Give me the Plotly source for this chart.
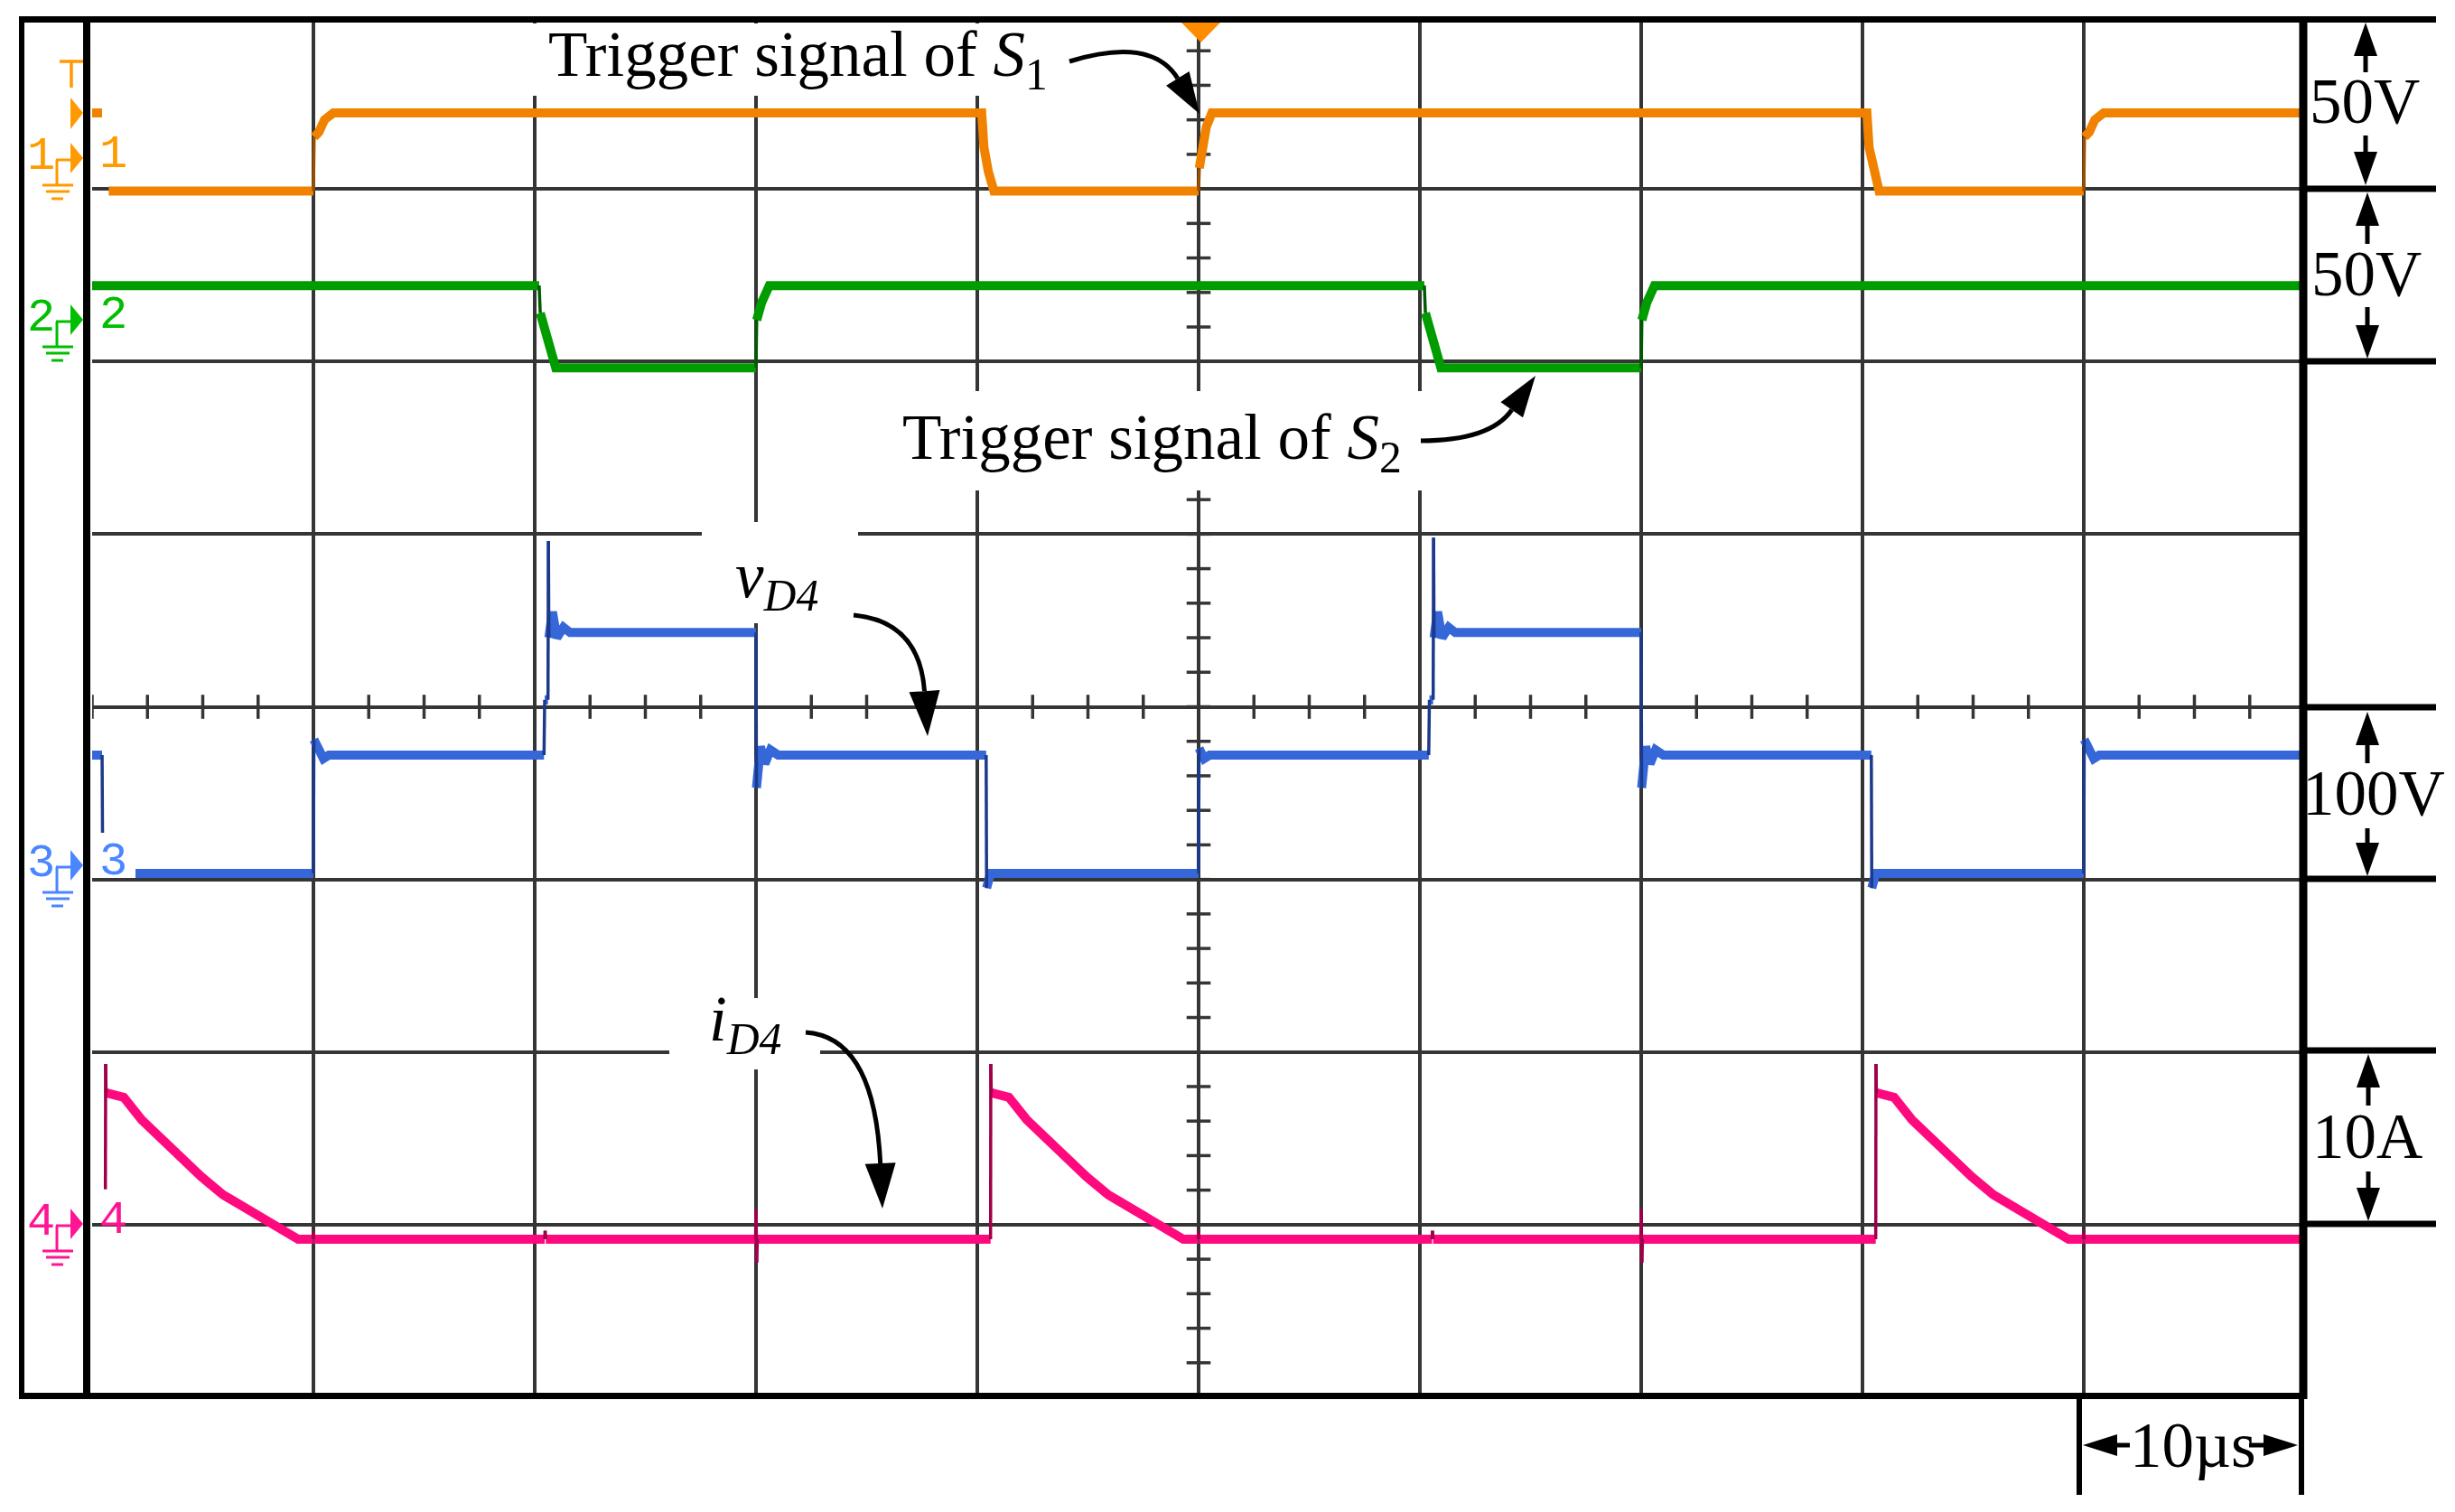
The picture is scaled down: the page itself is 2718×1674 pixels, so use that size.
import numpy as np
import plotly.graph_objects as go

# ---------------- data ----------------
# time in microseconds, 10 us/div, 10 divisions
# CH1: trigger signal of S1 (V), 50 V/div
ch1_t = [0.0, 0.45, None, 0.75, 10.0, 10.03, 10.25, 10.5, 10.9, 40.2, 40.3, 40.5, 40.75,
         50.0, 50.03, 50.15, 50.35, 50.6, 80.2, 80.3, 80.5, 80.75,
         90.0, 90.03, 90.25, 90.5, 90.9, 100.0]
ch1_v = [22, 22, None, -0.6, -0.6, 15, 16.5, 20, 22, 22, 12, 5, -0.6,
         -0.6, 6, 12, 18, 22, 22, 12, 5, -0.6,
         -0.6, 15, 16.5, 20, 22, 22]

# CH2: trigger signal of S2 (V), 50 V/div
ch2_t = [0.0, 20.2, 20.25, 20.5, 20.75, 20.95, 30.0, 30.03, 30.25, 30.6,
         60.2, 60.25, 60.5, 60.75, 60.95, 70.0, 70.03, 70.25, 70.6, 100.0]
ch2_v = [22, 22, 14, 8, 2, -1.8, -1.8, 12, 17, 22,
         22, 14, 8, 2, -1.8, -1.8, 12, 17, 22, 22]

# CH3: vD4 (V), 100 V/div
ch3_t = [0.0, 0.45, 0.47, None, 1.96, 10.0, 10.02, 10.2, 10.45, 10.7,
         20.42, 20.45, 20.6, 20.62, 20.64, 20.8, 21.0, 21.3, 21.6,
         30.0, 30.02, 30.2, 30.4, 30.65, 31.0, 40.4, 40.42, 40.6,
         50.0, 50.02, 50.25, 50.5,
         60.4, 60.43, 60.6, 60.62, 60.64, 60.8, 61.0, 61.3, 61.6,
         70.0, 70.02, 70.2, 70.4, 70.65, 71.0, 80.4, 80.42, 80.6,
         90.0, 90.02, 90.2, 90.45, 90.7, 100.0]
ch3_v = [72, 72, 27, None, 3.5, 3.5, 81, 76, 70, 72,
         72, 104, 104, 196, 140, 155, 140, 146, 143,
         143, 53, 77, 67, 75, 72, 72, -5, 3.5,
         3.5, 76, 70, 72,
         72, 104, 104, 198, 140, 155, 140, 146, 143,
         143, 53, 77, 67, 75, 72, 72, -5, 3.5,
         3.5, 81, 76, 70, 72, 72]

# CH4: iD4 (A), 10 A/div
ch4_t = [0.6, 0.61, 0.63, 1.43, 2.24, 3.06, 4.0, 4.94, 5.92, 7.14, 7.96, 8.78, 9.31,
         9.6, 9.98, 10.0, 10.02, 20.45, 20.47, 20.5, 29.98, 30.0, 30.03, 30.06,
         40.6, 40.61, 40.63, 41.43, 42.24, 43.06, 44.0, 44.94, 45.92, 47.14, 47.96, 48.78, 49.31,
         49.6, 49.98, 50.0, 50.02, 60.55, 60.57, 60.6, 69.98, 70.0, 70.03, 70.06,
         80.6, 80.61, 80.63, 81.43, 82.24, 83.06, 84.0, 84.94, 85.92, 87.14, 87.96, 88.78, 89.31,
         89.6, 89.98, 90.0, 90.02, 100.0]
ch4_v = [2.05, 9.31, 7.64, 7.38, 6.07, 5.02, 3.82, 2.77, 1.73, 0.84, 0.16, -0.47, -0.84,
         -0.84, -0.84, -0.4, -0.84, -0.84, -0.35, -0.84, -0.84, 0.9, -2.2, -0.84,
         -0.84, 9.31, 7.64, 7.38, 6.07, 5.02, 3.82, 2.77, 1.73, 0.84, 0.16, -0.47, -0.84,
         -0.84, -0.84, -0.4, -0.84, -0.84, -0.35, -0.84, -0.84, 0.9, -2.2, -0.84,
         -0.84, 9.31, 7.64, 7.38, 6.07, 5.02, 3.82, 2.77, 1.73, 0.84, 0.16, -0.47, -0.84,
         -0.84, -0.84, -0.4, -0.84, -0.84]

# channel scales: (units per division, ground position in divisions from bottom)
ch_scale = {"y2": (50, 7), "y3": (50, 6), "y4": (100, 3), "y5": (10, 1)}

# ---------------- geometry / styles ----------------
W, H = 2718, 1674
X0, X1 = 102, 2552
Y0, Y1 = 18, 1547
GRID = "#353535"


def px(x):
    return (x - X0) / (X1 - X0)


def py(y):
    return (Y1 - y) / (Y1 - Y0)


def split(t, v, thr=0.06):
    fx, fy, ex, ey = [], [], [], []
    last = None
    for i in range(len(t) - 1):
        t0, t1, v0, v1 = t[i], t[i + 1], v[i], v[i + 1]
        if t0 is None or t1 is None:
            fx.append(None); fy.append(None); last = None
            continue
        if t1 - t0 <= thr:
            ex += [t0, t1, None]; ey += [v0, v1, None]
            fx.append(None); fy.append(None); last = None
        else:
            if last != i:
                fx.append(t0); fy.append(v0)
            fx.append(t1); fy.append(v1); last = i + 1
    return fx, fy, ex, ey


fig = go.Figure()

# graticule minor ticks on the centre lines
hx = np.arange(0, 100.01, 2.5)
fig.add_trace(go.Scatter(x=hx, y=[4] * len(hx), mode="markers", xaxis="x", yaxis="y",
                         marker=dict(symbol="line-ns", size=19, color=GRID,
                                     line=dict(color=GRID, width=3.5)), hoverinfo="skip"))
vy = np.arange(0, 8.01, 0.2)
fig.add_trace(go.Scatter(x=[50] * len(vy), y=vy, mode="markers", xaxis="x", yaxis="y",
                         marker=dict(symbol="line-ew", size=19, color=GRID,
                                     line=dict(color=GRID, width=3.5)), hoverinfo="skip"))

channels = [
    (ch1_t, ch1_v, "y2", "#F08200", "#9A4E00"),
    (ch2_t, ch2_v, "y3", "#009C00", "#005C00"),
    (ch3_t, ch3_v, "y4", "#3567D8", "#1C3A8A"),
    (ch4_t, ch4_v, "y5", "#FF0A7E", "#A0004A"),
]
for t, v, ax, col, dcol in channels:
    fx, fy, ex, ey = split(t, v)
    fig.add_trace(go.Scatter(x=fx, y=fy, mode="lines", xaxis="x", yaxis=ax,
                             line=dict(color=col, width=10), hoverinfo="skip"))
    fig.add_trace(go.Scatter(x=ex, y=ey, mode="lines", xaxis="x", yaxis=ax,
                             line=dict(color=dcol, width=3.5), hoverinfo="skip"))

shapes = []


def add_line(x0, y0, x1, y1, w, color="black"):
    shapes.append(dict(type="line", xref="paper", yref="paper", x0=px(x0), y0=py(y0),
                       x1=px(x1), y1=py(y1), line=dict(color=color, width=w), layer="above"))


def add_poly(pts, color):
    path = "M " + " L ".join(f"{px(x):.6f},{py(y):.6f}" for x, y in pts) + " Z"
    shapes.append(dict(type="path", path=path, xref="paper", yref="paper",
                       fillcolor=color, line=dict(width=0), layer="above"))


def add_rect(x0, y0, x1, y1):
    shapes.append(dict(type="rect", xref="paper", yref="paper", x0=px(x0), y0=py(y0),
                       x1=px(x1), y1=py(y1), fillcolor="white", line=dict(width=0), layer="above"))


def curved_arrow(p0, c, tip, hl=46, hw=15, lw=5):
    d = np.array(tip, float) - np.array(c, float)
    d /= np.linalg.norm(d)
    n = np.array([-d[1], d[0]])
    b = np.array(tip, float) - hl * d
    path = (f"M {px(p0[0]):.6f},{py(p0[1]):.6f} Q {px(c[0]):.6f},{py(c[1]):.6f} "
            f"{px(b[0]):.6f},{py(b[1]):.6f}")
    shapes.append(dict(type="path", path=path, xref="paper", yref="paper",
                       line=dict(color="black", width=lw), layer="above"))
    add_poly([tuple(tip), tuple(b + hw * n), tuple(b - hw * n)], "black")


def v_arrow(x, y_from, y_tip, hl=37, hw=13, lw=5):
    s = 1 if y_tip > y_from else -1
    add_line(x, y_from, x, y_tip - s * hl, lw)
    add_poly([(x, y_tip), (x - hw, y_tip - s * hl), (x + hw, y_tip - s * hl)], "black")


def h_arrow(y, x_from, x_tip, hl=38, hw=12, lw=5):
    s = 1 if x_tip > x_from else -1
    add_line(x_from, y, x_tip - s * hl, y, lw)
    add_poly([(x_tip, y), (x_tip - s * hl, y - hw), (x_tip - s * hl, y + hw)], "black")


# white boxes behind labels (hide graticule)
add_rect(570, 26, 1190, 106)
add_rect(975, 433, 1590, 543)
add_rect(777, 578, 950, 690)
add_rect(741, 1105, 908, 1184)

# frame
add_line(24, 18, 24, 1549, 6)
add_line(96, 18, 96, 1549, 8)
add_line(2550, 18, 2550, 1549, 9)
add_line(21, 21.5, 2697, 21.5, 7)
add_line(21, 1545.5, 2554, 1545.5, 7)
for yy in [209, 400, 783, 973, 1163, 1355]:
    add_line(2550, yy, 2697, yy, 7)

# scale bars on the right
v_arrow(2619, 80, 25); v_arrow(2619, 150, 205)
v_arrow(2621, 270, 213); v_arrow(2621, 340, 397)
v_arrow(2621, 845, 788); v_arrow(2621, 917, 970)
v_arrow(2622, 1224, 1167); v_arrow(2622, 1297, 1352)
# time scale bar
add_line(2302, 1546, 2302, 1655, 6)
add_line(2548, 1546, 2548, 1655, 6)
h_arrow(1600, 2358, 2306)
h_arrow(1600, 2490, 2544)

# curved arrows from labels
curved_arrow((1184, 68), (1275, 40), (1328, 126))
curved_arrow((1573, 488), (1650, 488), (1700, 416))
curved_arrow((945, 681), (1018, 688), (1027, 815), hl=50, hw=17)
curved_arrow((892, 1143), (968, 1148), (977, 1338), hl=50, hw=17)

# trigger position marker at top
add_poly([(1308, 25), (1351, 25), (1329.5, 47)], "#FF8C00")

# channel markers on the left
mk_cols = ["#FF9A00", "#00BE00", "#4A86FF", "#FF1493"]
mk_y = [175, 354, 958, 1355]
add_line(66, 68, 92, 68, 3.5, mk_cols[0])
add_line(79, 68, 79, 97, 3.5, mk_cols[0])
add_poly([(78, 108), (78, 143), (92, 125)], mk_cols[0])
for col, ty in zip(mk_cols, mk_y):
    add_poly([(78, ty - 17), (78, ty + 17), (92, ty)], col)
    add_line(62, ty + 2, 79, ty + 2, 3, col)
    add_line(63, ty + 2, 63, ty + 30, 3, col)
    add_line(47, ty + 30, 81, ty + 30, 3, col)
    add_line(51, ty + 37, 77, ty + 37, 3, col)
    add_line(57, ty + 45, 70, ty + 45, 3, col)

annotations = []


def add_text(text, x, y, size=71, color="black", family="Liberation Serif", xanchor="center"):
    annotations.append(dict(text=text, x=px(x), y=py(y), xref="paper", yref="paper",
                            showarrow=False, xanchor=xanchor, yanchor="middle",
                            font=dict(family=family, size=size, color=color)))


add_text("Trigger signal of <i>S</i><sub>1</sub>", 883, 66)
add_text("Trigger signal of <i>S</i><sub>2</sub>", 1275, 489)
add_text("<i>v</i><sub><i>D4</i></sub>", 860, 642)
add_text("<i>i</i><sub><i>D4</i></sub>", 825, 1133)
add_text("50V", 2618, 112)
add_text("50V", 2620, 303)
add_text("100V", 2628, 878)
add_text("10A", 2621, 1258)
add_text("10µs", 2428, 1600)
for i, (col, ty) in enumerate(zip(mk_cols, mk_y)):
    add_text(str(i + 1), 45, ty - 2, size=52, color=col, family="Liberation Mono")
    add_text(str(i + 1), 125, ty - 4, size=52, color=col, family="Liberation Mono")

layout = dict(
    width=W, height=H, autosize=False,
    margin=dict(l=X0, r=W - X1, t=Y0, b=H - Y1, pad=0),
    paper_bgcolor="white", plot_bgcolor="white", showlegend=False,
    xaxis=dict(range=[0, 100], dtick=10, tick0=0, showgrid=True, gridcolor=GRID, gridwidth=3.5,
               showticklabels=False, ticks="", zeroline=False, showline=False, fixedrange=True),
    yaxis=dict(range=[0, 8], dtick=1, tick0=0, showgrid=True, gridcolor=GRID, gridwidth=3.5,
               showticklabels=False, ticks="", zeroline=False, showline=False, fixedrange=True),
    shapes=shapes, annotations=annotations,
)
for ax, (per_div, gnd) in ch_scale.items():
    key = "yaxis" + ax[1:]
    layout[key] = dict(overlaying="y", range=[-gnd * per_div, (8 - gnd) * per_div],
                       visible=False, fixedrange=True)
fig.update_layout(**layout)

fig.write_html("out.html", config={"displayModeBar": False},
               post_script="document.body.style.margin='0';document.body.style.overflow='hidden';")
